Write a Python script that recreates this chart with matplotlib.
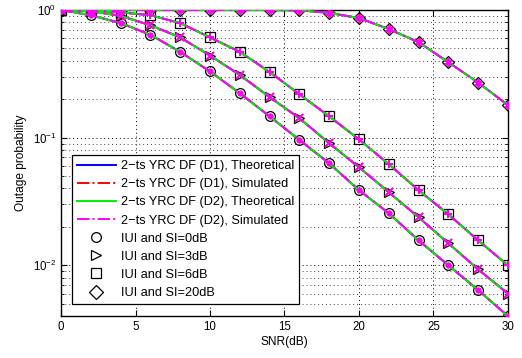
import numpy as np
import matplotlib.pyplot as plt
from matplotlib.lines import Line2D

plt.rcParams['font.family'] = ['Liberation Sans', 'DejaVu Sans']
plt.rcParams['font.size'] = 8.3

# --- du lieu doc tu hinh ---
snr = [0, 2, 4, 6, 8, 10, 12, 14, 16, 18, 20, 22, 24, 26, 28, 30]
p_si0 = [1.0, 0.91, 0.79, 0.64, 0.47, 0.33, 0.223, 0.147, 0.096, 0.063,
         0.0388, 0.0256, 0.0157, 0.0100, 0.0064, 0.0040]
p_si3 = [1.0, 0.98, 0.90, 0.76, 0.61, 0.44, 0.31, 0.208, 0.142, 0.0905,
         0.0587, 0.0374, 0.0238, 0.0149, 0.0093, 0.0060]
p_si6 = [1.0, 0.995, 0.96, 0.91, 0.79, 0.61, 0.47, 0.327, 0.219, 0.147,
         0.097, 0.062, 0.0388, 0.0251, 0.0157, 0.0100]
p_si20 = [1.0, 1.0, 1.0, 1.0, 1.0, 1.0, 1.0, 1.0, 0.995, 0.95,
          0.865, 0.71, 0.56, 0.39, 0.27, 0.18]

curves = [p_si0, p_si3, p_si6, p_si20]
open_markers = ['o', '>', 's', 'D']
sim_markers = ['.', 'x', '+', (6, 2, 0)]
legend_labels = ['2\u2212ts YRC DF (D1), Theoretical', '2\u2212ts YRC DF (D1), Simulated',
                 '2\u2212ts YRC DF (D2), Theoretical', '2\u2212ts YRC DF (D2), Simulated',
                 'IUI and SI=0dB', 'IUI and SI=3dB', 'IUI and SI=6dB', 'IUI and SI=20dB']

fig = plt.figure(figsize=(5.22, 3.58), dpi=100)
ax = fig.add_axes([0.117, 0.117, 0.856, 0.855])

for vals, om, sm in zip(curves, open_markers, sim_markers):
    ms_open = 6.5 if om == 'D' else 7
    ax.plot(snr, vals, linestyle='none', marker=om, mfc='none', mec='black',
            ms=ms_open, mew=0.9, zorder=2)
    ax.plot(snr, vals, color='blue', lw=1.4, zorder=3)
    ax.plot(snr, vals, color='red', lw=1.4, ls='-.', marker=sm, ms=6, mew=1.2, zorder=4)
    ax.plot(snr, vals, color='#00ee00', lw=1.4, zorder=5)
    ax.plot(snr, vals, color='magenta', lw=1.4, ls='-.', dashes=(6, 3, 1, 3),
            marker=sm, ms=6, mew=1.2, zorder=6)

ax.set_yscale('log')
ax.set_xlim(0, 30)
ax.set_ylim(0.004, 1)
ax.set_xticks([0, 5, 10, 15, 20, 25, 30])
ax.grid(True, which='major', ls=(0, (1, 3)), color='black', lw=0.7)
ax.grid(True, which='minor', axis='y', ls=(0, (1, 3)), color='#444444', lw=0.7)
ax.tick_params(which='both', direction='in', top=True, right=True)
ax.tick_params(which='major', length=4)
ax.tick_params(which='minor', length=2)
ax.set_xlabel('SNR(dB)', fontsize=8.6, labelpad=2)
ax.set_ylabel('Outage probability', fontsize=8.6)
for s in ax.spines.values():
    s.set_linewidth(1.0)

handles = [
    Line2D([], [], color='blue', lw=1.4),
    Line2D([], [], color='red', lw=1.4, ls='-.'),
    Line2D([], [], color='#00ee00', lw=1.4),
    Line2D([], [], color='magenta', lw=1.4, ls='-.'),
]
for om in open_markers:
    handles.append(Line2D([], [], ls='none', marker=om, mfc='none', mec='black', ms=7, mew=0.9))

leg = ax.legend(handles, legend_labels, loc='lower left', bbox_to_anchor=(0.0246, 0.039),
                fancybox=False, framealpha=1, edgecolor='black', fontsize=9.2,
                handlelength=3.0, labelspacing=0.48, borderpad=0.4, handletextpad=0.4,
                borderaxespad=0)
leg.get_frame().set_linewidth(0.9)
leg.set_zorder(10)

fig.savefig('out.png', dpi=100)
